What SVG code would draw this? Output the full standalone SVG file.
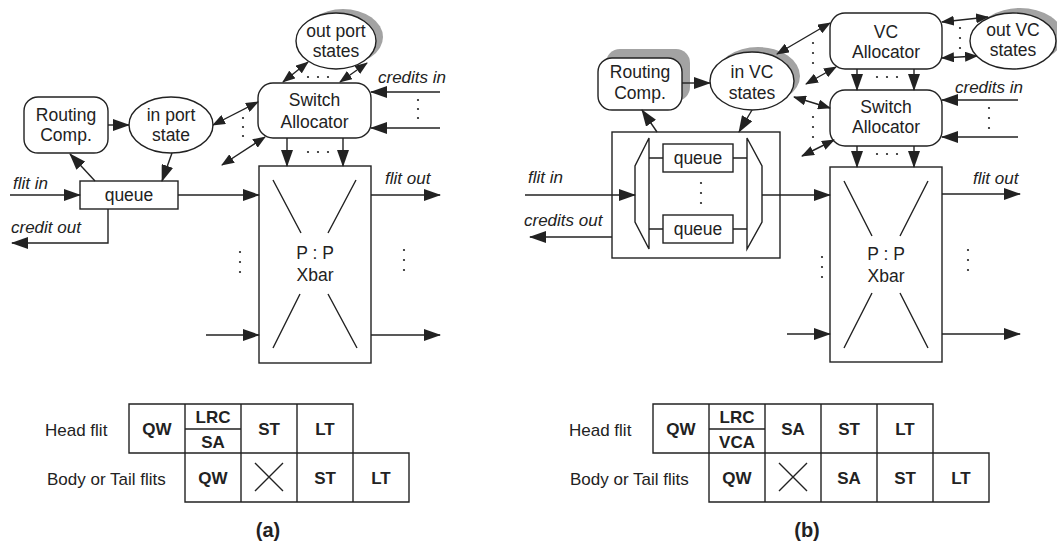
<svg xmlns="http://www.w3.org/2000/svg" width="1057" height="546" viewBox="0 0 1057 546">
<style>
.s{fill:none;stroke:#222;stroke-width:1.4}
.n{fill:#fff;stroke:#222;stroke-width:1.4}
.sh{fill:#a3a3a3;stroke:none}
.t{font-family:"Liberation Sans",Arial,sans-serif;font-size:17.5px;fill:#222;text-anchor:middle}
.l{font-family:"Liberation Sans",Arial,sans-serif;font-size:17px;fill:#222;font-style:italic}
.r{font-family:"Liberation Sans",Arial,sans-serif;font-size:17px;fill:#222}
.b{font-family:"Liberation Sans",Arial,sans-serif;font-size:17px;font-weight:bold;fill:#222;text-anchor:middle}
.cap{font-family:"Liberation Sans",Arial,sans-serif;font-size:20px;font-weight:bold;fill:#222;text-anchor:middle}
.a{fill:none;stroke:#222;stroke-width:1.4;marker-end:url(#ah)}
.d{fill:none;stroke:#222;stroke-width:1.4;marker-start:url(#ah2);marker-end:url(#ah2)}
.dot{fill:#222}
</style>
<defs>
<marker id="ah" markerUnits="userSpaceOnUse" markerWidth="17" markerHeight="12" refX="16" refY="6" orient="auto-start-reverse"><path d="M0,0 L17,6 L0,12 z" fill="#222"/></marker>
<marker id="ah2" markerUnits="userSpaceOnUse" markerWidth="13" markerHeight="10" refX="12" refY="5" orient="auto-start-reverse"><path d="M0,0 L13,5 L0,10 z" fill="#222"/></marker>
</defs>
<rect width="1057" height="546" fill="#fff"/>

<!-- ===== Panel (a) ===== -->
<g id="a-routing"><rect class="n" x="24" y="97" width="84" height="56" rx="14"/><text class="t" x="66" y="121">Routing</text><text class="t" x="66" y="141">Comp.</text></g>
<g id="a-inport"><ellipse class="n" cx="171" cy="125" rx="42" ry="28"/><text class="t" x="171" y="121">in port</text><text class="t" x="171" y="141">state</text></g>
<g id="a-outport"><ellipse class="sh" cx="343" cy="37" rx="40" ry="28"/><ellipse class="n" cx="336" cy="41" rx="40" ry="28"/><text class="t" x="336" y="37">out port</text><text class="t" x="336" y="57">states</text></g>
<g id="a-sa"><rect class="n" x="258" y="83" width="113" height="55" rx="15"/><text class="t" x="314.5" y="106">Switch</text><text class="t" x="314.5" y="128">Allocator</text></g>
<g id="a-queue"><rect class="n" x="80" y="181" width="98" height="28"/><text class="t" x="129" y="201">queue</text></g>
<g id="a-xbar"><rect class="n" x="259" y="166" width="112" height="197"/>
<path class="s" d="M273,180 L301,233 M356,180 L328,233 M300,294 L273,348 M328,294 L357,348"/>
<text class="t" x="315" y="259">P : P</text><text class="t" x="315" y="281">Xbar</text></g>

<g id="a-connectors">
<line class="a" x1="108" y1="125" x2="129" y2="125"/>
<line class="a" x1="95" y1="181" x2="70" y2="154"/>
<line class="a" x1="172" y1="153" x2="162" y2="181"/>
<line class="a" x1="10" y1="195" x2="80" y2="195"/>
<line class="a" x1="178" y1="195" x2="259" y2="195"/>
<polyline class="a" points="108,209 108,243 12,243"/>
<line class="d" x1="213" y1="125" x2="258" y2="102"/>
<line class="d" x1="222" y1="165" x2="265" y2="137"/>
<line class="d" x1="283" y1="82" x2="308" y2="62"/>
<line class="d" x1="340" y1="82" x2="367" y2="63"/>
<line class="a" x1="440" y1="92" x2="371" y2="92"/>
<line class="a" x1="440" y1="128" x2="371" y2="128"/>
<line class="a" x1="287" y1="138" x2="287" y2="166"/>
<line class="a" x1="343" y1="138" x2="343" y2="166"/>
<line class="a" x1="371" y1="195" x2="440" y2="195"/>
<line class="a" x1="206" y1="335" x2="259" y2="335"/>
<line class="a" x1="371" y1="335" x2="440" y2="335"/>
</g>
<g id="a-dots">
<circle class="dot" cx="308" cy="77" r="1.1"/><circle class="dot" cx="318" cy="77" r="1.1"/><circle class="dot" cx="328" cy="77" r="1.1"/>
<circle class="dot" cx="308" cy="152" r="1.1"/><circle class="dot" cx="318" cy="152" r="1.1"/><circle class="dot" cx="328" cy="152" r="1.1"/>
<circle class="dot" cx="243" cy="118" r="1.1"/><circle class="dot" cx="243" cy="127" r="1.1"/><circle class="dot" cx="243" cy="136" r="1.1"/>
<circle class="dot" cx="418" cy="100" r="1.1"/><circle class="dot" cx="418" cy="109" r="1.1"/><circle class="dot" cx="418" cy="118" r="1.1"/>
<circle class="dot" cx="240" cy="252" r="1.1"/><circle class="dot" cx="240" cy="262" r="1.1"/><circle class="dot" cx="240" cy="272" r="1.1"/>
<circle class="dot" cx="404" cy="250" r="1.1"/><circle class="dot" cx="404" cy="260" r="1.1"/><circle class="dot" cx="404" cy="270" r="1.1"/>
</g>
<g id="a-labels">
<text class="l" x="13" y="189">flit in</text>
<text class="l" x="11" y="233">credit out</text>
<text class="l" x="378" y="83">credits in</text>
<text class="l" x="385" y="184">flit out</text>
</g>

<g id="a-pipeline">
<text class="r" x="45" y="436">Head flit</text>
<text class="r" x="47" y="485">Body or Tail flits</text>
<path class="s" d="M129,404 H353 V453 H129 Z M185,404 V502 M241,404 V502 M297,404 V502 M353,453 V502 M185,429 H241 M185,453 H409 V502 H185 Z"/>
<text class="b" x="157" y="435">QW</text>
<text class="b" x="213" y="423">LRC</text>
<text class="b" x="213" y="448">SA</text>
<text class="b" x="269" y="435">ST</text>
<text class="b" x="325" y="435">LT</text>
<text class="b" x="213" y="484">QW</text>
<path class="s" d="M255,463 L283,491 M283,463 L255,491"/>
<text class="b" x="325" y="484">ST</text>
<text class="b" x="381" y="484">LT</text>
<text class="cap" x="268" y="537">(a)</text>
</g>

<!-- ===== Panel (b) ===== -->
<g id="b-routing"><rect class="sh" x="606" y="49" width="84" height="52" rx="14"/><rect class="n" x="598" y="58" width="84" height="52" rx="14"/><text class="t" x="640" y="78">Routing</text><text class="t" x="640" y="99">Comp.</text></g>
<g id="b-invc"><ellipse class="sh" cx="758" cy="76" rx="42" ry="29"/><ellipse class="n" cx="752" cy="81" rx="42" ry="29"/><text class="t" x="752" y="78">in VC</text><text class="t" x="752" y="99">states</text></g>
<g id="b-outvc"><ellipse class="sh" cx="1020" cy="36" rx="43" ry="28"/><ellipse class="n" cx="1013" cy="41" rx="43" ry="28"/><text class="t" x="1013" y="36">out VC</text><text class="t" x="1013" y="56">states</text></g>
<g id="b-vca"><rect class="n" x="830" y="13" width="112" height="56" rx="15"/><text class="t" x="886" y="38">VC</text><text class="t" x="886" y="58">Allocator</text></g>
<g id="b-sa"><rect class="n" x="830" y="90" width="112" height="56" rx="15"/><text class="t" x="886" y="113">Switch</text><text class="t" x="886" y="133">Allocator</text></g>
<g id="b-buffer"><rect class="n" x="612" y="132" width="168" height="126"/>
<polygon class="n" points="649,138 635,166 635,222 649,249"/>
<polygon class="n" points="747,138 762,166 762,222 747,249"/>
<path class="s" d="M649,158 H663 M733,158 H747 M649,229 H663 M733,229 H747"/>
<rect class="n" x="663" y="144" width="70" height="28"/><text class="t" x="698" y="164">queue</text>
<rect class="n" x="663" y="215" width="70" height="28"/><text class="t" x="698" y="235">queue</text>
<circle class="dot" cx="701" cy="183" r="1.1"/><circle class="dot" cx="701" cy="193" r="1.1"/><circle class="dot" cx="701" cy="203" r="1.1"/>
</g>
<g id="b-xbar"><rect class="n" x="830" y="167" width="112" height="195"/>
<path class="s" d="M844,181 L872,236 M928,181 L900,236 M872,293 L844,348 M900,293 L928,348"/>
<text class="t" x="886" y="260">P : P</text><text class="t" x="886" y="282">Xbar</text></g>

<g id="b-connectors">
<line class="a" x1="682" y1="83" x2="710" y2="83"/>
<line class="a" x1="657" y1="132" x2="642" y2="110"/>
<line class="a" x1="752" y1="110" x2="739" y2="132"/>
<line class="a" x1="525" y1="195" x2="635" y2="195"/>
<line class="a" x1="612" y1="237" x2="530" y2="237"/>
<line class="a" x1="762" y1="195" x2="830" y2="195"/>
<line class="d" x1="777" y1="54" x2="830" y2="23"/>
<line class="d" x1="806" y1="84" x2="836" y2="67"/>
<line class="d" x1="794" y1="97" x2="830" y2="108"/>
<line class="d" x1="802" y1="156" x2="834" y2="140"/>
<line class="d" x1="942" y1="22" x2="988" y2="17"/>
<line class="d" x1="942" y1="58" x2="977" y2="56"/>
<line class="a" x1="857" y1="69" x2="857" y2="90"/>
<line class="a" x1="914" y1="69" x2="914" y2="90"/>
<line class="a" x1="1018" y1="100" x2="942" y2="100"/>
<line class="a" x1="1018" y1="137" x2="942" y2="137"/>
<line class="a" x1="857" y1="146" x2="857" y2="167"/>
<line class="a" x1="914" y1="146" x2="914" y2="167"/>
<line class="a" x1="942" y1="194" x2="1020" y2="194"/>
<line class="a" x1="787" y1="334" x2="830" y2="334"/>
<line class="a" x1="942" y1="334" x2="1020" y2="334"/>
</g>
<g id="b-dots">
<circle class="dot" cx="960" cy="28" r="1.1"/><circle class="dot" cx="960" cy="38" r="1.1"/><circle class="dot" cx="960" cy="48" r="1.1"/>
<circle class="dot" cx="813" cy="43" r="1.1"/><circle class="dot" cx="813" cy="53" r="1.1"/><circle class="dot" cx="813" cy="63" r="1.1"/>
<circle class="dot" cx="877" cy="77" r="1.1"/><circle class="dot" cx="887" cy="77" r="1.1"/><circle class="dot" cx="897" cy="77" r="1.1"/>
<circle class="dot" cx="989" cy="108" r="1.1"/><circle class="dot" cx="989" cy="118" r="1.1"/><circle class="dot" cx="989" cy="128" r="1.1"/>
<circle class="dot" cx="813" cy="117" r="1.1"/><circle class="dot" cx="813" cy="127" r="1.1"/><circle class="dot" cx="813" cy="137" r="1.1"/>
<circle class="dot" cx="877" cy="154" r="1.1"/><circle class="dot" cx="887" cy="154" r="1.1"/><circle class="dot" cx="897" cy="154" r="1.1"/>
<circle class="dot" cx="822" cy="257" r="1.1"/><circle class="dot" cx="822" cy="267" r="1.1"/><circle class="dot" cx="822" cy="277" r="1.1"/>
<circle class="dot" cx="968" cy="250" r="1.1"/><circle class="dot" cx="968" cy="260" r="1.1"/><circle class="dot" cx="968" cy="270" r="1.1"/>
</g>
<g id="b-labels">
<text class="l" x="528" y="183">flit in</text>
<text class="l" x="524" y="226">credits out</text>
<text class="l" x="955" y="93">credits in</text>
<text class="l" x="973" y="184">flit out</text>
</g>

<g id="b-pipeline">
<text class="r" x="569" y="436">Head flit</text>
<text class="r" x="570" y="485">Body or Tail flits</text>
<path class="s" d="M653,404 H933 V453 H653 Z M709,404 V502 M765,404 V502 M821,404 V502 M877,404 V502 M933,453 V502 M709,429 H765 M709,453 H989 V502 H709 Z"/>
<text class="b" x="681" y="435">QW</text>
<text class="b" x="737" y="423">LRC</text>
<text class="b" x="737" y="448">VCA</text>
<text class="b" x="793" y="435">SA</text>
<text class="b" x="849" y="435">ST</text>
<text class="b" x="905" y="435">LT</text>
<text class="b" x="737" y="484">QW</text>
<path class="s" d="M779,463 L807,491 M807,463 L779,491"/>
<text class="b" x="849" y="484">SA</text>
<text class="b" x="905" y="484">ST</text>
<text class="b" x="961" y="484">LT</text>
<text class="cap" x="807" y="537">(b)</text>
</g>
</svg>
